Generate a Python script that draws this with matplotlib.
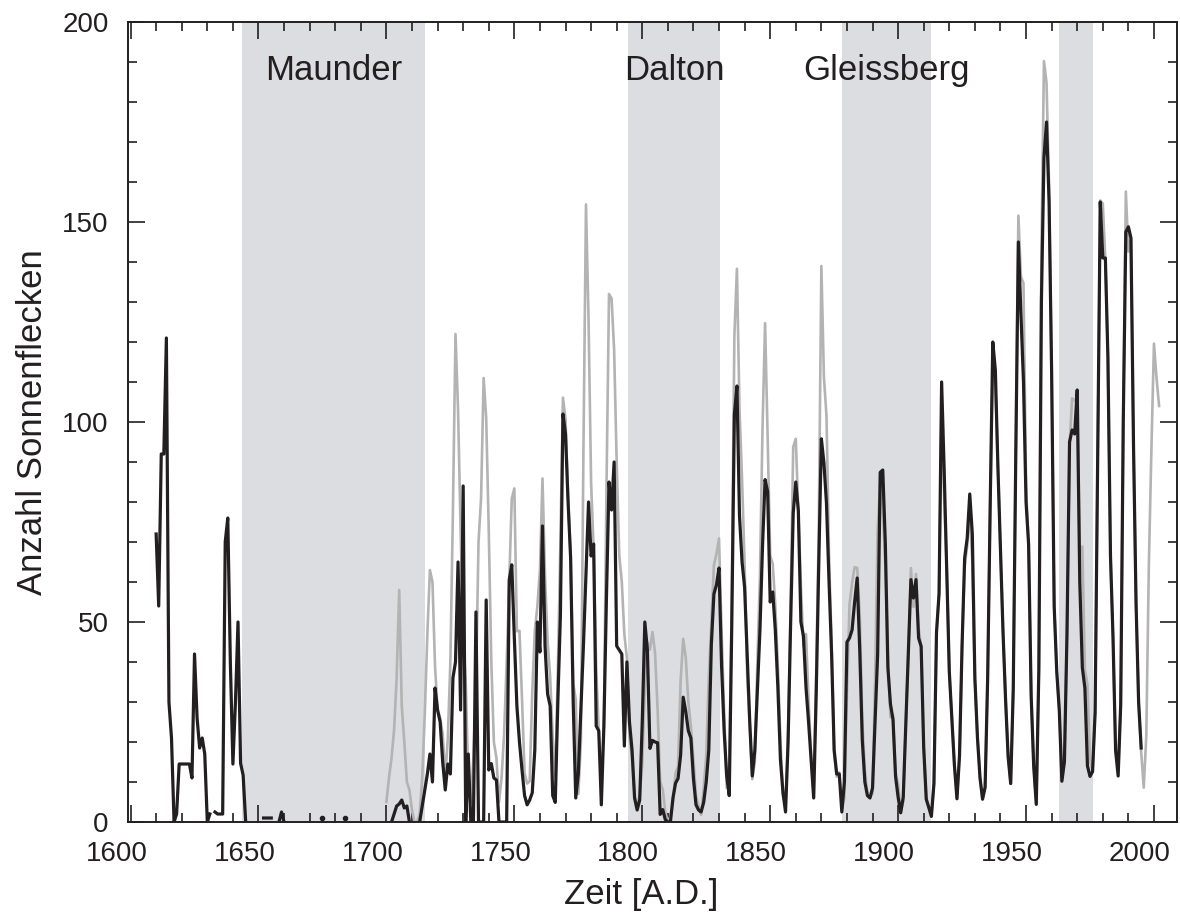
import numpy as np
import matplotlib
matplotlib.use("Agg")
import matplotlib.pyplot as plt
import matplotlib.transforms as mtransforms
from matplotlib.ticker import MultipleLocator

plt.rcParams['font.family'] = ['Liberation Sans', 'DejaVu Sans']

nan = np.nan

# Wolf number (yearly means), 1700-2002
wolf_years = np.arange(1700, 2003)
wolf = [
    5, 11, 16, 23, 36, 58, 29, 20, 10, 8,
    3, 0, 0, 2, 11, 27, 47, 63, 60, 39,
    28, 26, 22, 11, 21, 40, 78, 122, 103, 73,
    47, 35, 11, 5, 16, 34, 70, 81, 111, 101,
    73, 40, 20, 16, 5, 11, 22, 40, 60, 80.9,
    83.4, 47.7, 47.8, 30.7, 12.2, 9.6, 10.2, 32.4, 47.6, 54.0,
    62.9, 85.9, 61.2, 45.1, 36.4, 20.9, 11.4, 37.8, 69.8, 106.1,
    100.8, 81.6, 66.5, 34.8, 30.6, 7.0, 19.8, 92.5, 154.4, 125.9,
    84.8, 68.1, 38.5, 22.8, 10.2, 24.1, 82.9, 132.0, 130.9, 118.1,
    89.9, 66.6, 60.0, 46.9, 41.0, 21.3, 16.0, 6.4, 4.1, 6.8,
    14.5, 34.0, 45.0, 43.1, 47.5, 42.2, 28.1, 10.1, 8.1, 2.5,
    0.0, 1.4, 5.0, 12.2, 13.9, 35.4, 45.8, 41.1, 30.1, 23.9,
    15.6, 6.6, 4.0, 1.8, 8.5, 16.6, 36.3, 49.6, 64.2, 67.0,
    70.9, 47.8, 27.5, 8.5, 13.2, 56.9, 121.5, 138.3, 103.2, 85.7,
    64.6, 36.7, 24.2, 10.7, 15.0, 40.1, 61.5, 98.5, 124.7, 96.3,
    66.6, 64.5, 54.1, 39.0, 20.6, 6.7, 4.3, 22.7, 54.8, 93.8,
    95.8, 77.2, 59.1, 44.0, 47.0, 30.5, 16.3, 7.3, 37.6, 74.0,
    139.0, 111.2, 101.6, 66.2, 44.7, 17.0, 11.3, 12.4, 3.4, 6.0,
    32.3, 54.3, 59.7, 63.7, 63.5, 52.2, 25.4, 13.1, 6.8, 6.3,
    7.1, 35.6, 73.0, 85.1, 78.0, 64.0, 41.8, 26.2, 26.7, 12.1,
    9.5, 2.7, 5.0, 24.4, 42.0, 63.5, 53.8, 62.0, 48.5, 43.9,
    18.6, 5.7, 3.6, 1.4, 9.6, 47.4, 57.1, 103.9, 80.6, 63.6,
    37.6, 26.1, 14.2, 5.8, 16.7, 44.3, 63.9, 69.0, 77.8, 64.9,
    35.7, 21.2, 11.1, 5.7, 8.7, 36.1, 79.7, 114.4, 109.6, 88.8,
    67.8, 47.5, 30.6, 16.3, 9.6, 33.2, 92.6, 151.6, 136.3, 134.7,
    83.9, 69.4, 31.5, 13.9, 4.4, 38.0, 141.7, 190.2, 184.8, 159.0,
    112.3, 53.9, 37.6, 27.9, 10.2, 15.1, 47.0, 93.8, 105.9, 105.5,
    104.5, 66.6, 68.9, 38.0, 34.5, 15.5, 12.6, 27.5, 92.5, 155.4,
    154.6, 140.4, 115.9, 66.6, 45.9, 17.9, 13.4, 29.4, 100.2, 157.6,
    142.6, 145.7, 94.3, 54.6, 29.9, 17.5, 8.6, 21.5, 64.3, 93.3,
    119.6, 111.0, 104.0,
]

# group sunspot number (yearly means), 1610-1995; nan = no observations
group_years = np.arange(1610, 1996)
group = [
    72, 54, 92, 92, 121, 30, 21, 0, 2, 14.5,
    14.5, 14.5, 14.5, 14.5, 11, 42, 26, 18.5, 21, 17,
    0, 2, nan, 2.5, 2, 2, 2, 70, 76, 40,
    14.5, 30, 50, 14.7, 11.7, 0, nan, nan, nan, nan,
    nan, nan, 1, 1, 1, 1, nan, nan, 0, 2.5,
    0, nan, nan, nan, nan, nan, nan, nan, nan, nan,
    nan, nan, nan, nan, nan, 1, nan, nan, nan, nan,
    nan, nan, nan, nan, 1, nan, nan, nan, nan, nan,
    nan, nan, nan, nan, nan, nan, nan, nan, nan, nan,
    nan, nan, 0, 2, 4, 4.5, 5.5, 3.5, 4, 0,
    nan, nan, nan, 0, 4, 8, 12, 17, 10, 33.5,
    28, 25, 15, 8, 14.5, 12, 36, 40, 65, 28,
    84, 0, 17, 0, 0, 52.5, 0, 0, 0, 55.5,
    13, 14.6, 11, 10.5, 0, 0, 0, 0, 60.5, 64.3,
    46, 29, 20, 13, 6.6, 4.3, 5.5, 7.3, 18, 50,
    42.5, 74, 44, 32, 29, 6.6, 4.9, 30, 51.5, 102,
    97, 80, 66, 30, 6, 12, 28, 44, 62, 80,
    66.5, 69.5, 24, 22.8, 4.3, 24, 56, 85, 78, 90,
    44, 43, 42, 19, 40, 25, 18, 6, 3, 5.5,
    25, 50, 43, 18.4, 20.4, 20, 19.8, 1.9, 3.1, 0.6,
    0, 0, 6, 9.7, 10.9, 16.8, 31.2, 27.6, 22.8, 21,
    10.9, 4.3, 3, 2.5, 4.9, 10, 18, 44.4, 57, 59.3,
    63.5, 39, 22.8, 11.5, 6.6, 50, 101.8, 109, 76.6, 65,
    58.7, 42, 25.2, 11.5, 18, 33, 48, 68.9, 85.6, 82.6,
    55, 57.5, 48, 33.6, 15.6, 7.3, 2.5, 20, 50, 77.2,
    85, 77.8, 50, 46.5, 33.6, 25, 15.6, 6, 32.4, 65,
    95.8, 89.8, 79.6, 60, 42, 18, 12, 12, 2.5, 10,
    45, 46, 48, 55, 61, 43, 20.4, 10, 6.6, 6,
    8.5, 25, 42, 87.4, 88, 69.7, 38.6, 29.5, 25.6, 11.4,
    6.2, 2.3, 6.2, 24.4, 42, 60.6, 56, 60.6, 46, 43.9,
    18.6, 5.7, 3.6, 1.4, 9.6, 47.4, 57.1, 110, 88, 63,
    37.6, 26.1, 14.2, 5.8, 16.7, 44.3, 66, 71, 82, 72,
    36, 21.2, 11.1, 5.7, 8.7, 36.1, 79.7, 120, 113, 88.8,
    67.8, 47.5, 30.6, 16.3, 9.6, 33.2, 92.6, 145, 127, 110,
    80, 69.4, 31.5, 13.9, 4.4, 38, 130, 166, 175, 155,
    112.3, 53.9, 37.6, 27.9, 10.2, 15.1, 47, 95, 98, 97,
    108, 60, 38.6, 33.5, 14, 11.4, 12.6, 27.5, 92.5, 155,
    141, 141, 116, 66.6, 45.9, 17.9, 11.5, 29.4, 100.2, 147.5,
    148.8, 146, 94.3, 54.6, 29.9, 18.5,
]

# grand minima of solar activity
minima_names = ['Maunder', 'Dalton', 'Gleissberg', '']
minima_start = [1643.5, 1794.5, 1878, 1963]
minima_end = [1715, 1830.5, 1913, 1976]

fig = plt.figure(figsize=(11.8, 9.15), dpi=100)
ax = fig.add_axes([128 / 1180, 93 / 915, 1049 / 1180, 800 / 915])

for name, start, end in zip(minima_names, minima_start, minima_end):
    ax.axvspan(start, end, color='#dcdde0', lw=0, zorder=0)
    if name:
        ax.text((start + end) / 2, 185.5, name, ha='center', va='baseline',
                fontsize=25, color='#231f20', zorder=5)

ax.plot(wolf_years, wolf, color='#b3b3b3', lw=1.9, zorder=2)

g = np.array(group, dtype=float)
ax.plot(group_years, g, color='#231f20', lw=2.3, zorder=3)
# single years with no neighbours would vanish as a line, show them as dots
prev = np.r_[nan, g[:-1]]
nxt = np.r_[g[1:], nan]
lone = ~np.isnan(g) & np.isnan(prev) & np.isnan(nxt)
ax.plot(group_years[lone], g[lone], 'o', ms=3, color='#231f20', zorder=3)

ax.set_xlim(1599, 2009)
ax.set_ylim(0, 200)
ax.set_xticks(np.arange(1600, 2001, 50))
ax.xaxis.set_minor_locator(MultipleLocator(10))
ax.set_yticks(np.arange(0, 201, 50))
ax.yaxis.set_minor_locator(MultipleLocator(10))

ax.tick_params(which='both', direction='in', top=True, right=True,
               width=1.2, color='#231f20', labelcolor='#231f20')
ax.tick_params(which='major', length=12, labelsize=20, pad=14)
ax.tick_params(which='minor', length=6.5)
for sp in ax.spines.values():
    sp.set_linewidth(1.4)
    sp.set_color('#231f20')

# year labels sit a little left of their ticks
shift = mtransforms.ScaledTranslation(-0.14, 0, fig.dpi_scale_trans)
for lab in ax.get_xticklabels():
    lab.set_transform(lab.get_transform() + shift)

ax.set_xlabel('Zeit [A.D.]', fontsize=25, color='#231f20')
ax.xaxis.set_label_coords(0.4895, -0.07)
ax.set_ylabel('Anzahl Sonnenflecken', fontsize=25, color='#231f20')
ax.yaxis.set_label_coords(-0.0753, 0.5)

fig.savefig('out.png', dpi=100)
